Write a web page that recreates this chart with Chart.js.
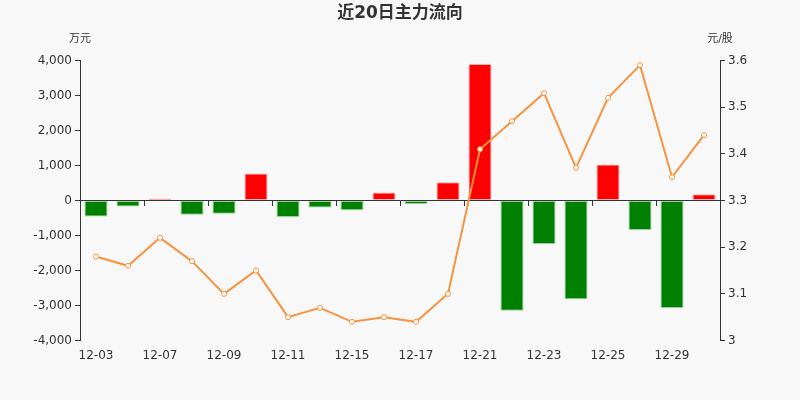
<!DOCTYPE html>
<html>
<head>
<meta charset="utf-8">
<script src="https://cdn.jsdelivr.net/npm/chart.js@4/dist/chart.umd.min.js"></script>
<style>
html,body{margin:0;padding:0;background:#f8f8f8;}
#wrap{width:800px;height:400px;position:relative;}
</style>
</head>
<body>
<div id="wrap"><canvas id="c" width="800" height="400"></canvas></div>
<script>
const titleText = '近20日主力流向';
const leftUnit = '万元';
const rightUnit = '元/股';
const dates = ['12-03','12-04','12-07','12-08','12-09','12-10','12-11','12-14','12-15','12-16',
               '12-17','12-18','12-21','12-22','12-23','12-24','12-25','12-28','12-29','12-30'];
const flowValues = [-460,-170,60,-410,-380,770,-470,-200,-280,230,
                    -100,520,3900,-3150,-1240,-2820,1030,-840,-3070,180];
const priceValues = [3.18,3.16,3.22,3.17,3.10,3.15,3.05,3.07,3.04,3.05,
                     3.04,3.10,3.41,3.47,3.53,3.37,3.52,3.59,3.35,3.44];

const FONT = '"DejaVu Sans", "Noto Sans CJK SC", sans-serif';
Chart.defaults.font.family = FONT;
Chart.defaults.color = '#333';

const overlay = {
  id: 'overlay',
  afterDraw(chart) {
    const ctx = chart.ctx, a = chart.chartArea;
    ctx.save();
    ctx.fillStyle = '#333';
    ctx.textAlign = 'center';
    ctx.textBaseline = 'middle';
    ctx.font = 'bold 17px "DejaVu Sans", "Noto Sans CJK SC", sans-serif';
    ctx.fillText(titleText, 400, 14);
    ctx.font = '11px ' + FONT;
    ctx.fillText(leftUnit, a.left, 39);
    ctx.fillText(rightUnit, a.right, 39);
    ctx.restore();
  }
};

new Chart(document.getElementById('c'), {
  data: {
    labels: dates,
    datasets: [
      {
        type: 'line',
        data: priceValues,
        yAxisID: 'yR',
        xAxisID: 'x',
        borderColor: '#f7923f',
        borderWidth: 2,
        pointRadius: 2.5,
        pointBorderWidth: 1,
        pointBackgroundColor: '#fff',
        pointBorderColor: '#f7923f',
        tension: 0,
        order: 0
      },
      {
        type: 'bar',
        data: flowValues,
        yAxisID: 'yL',
        xAxisID: 'x',
        backgroundColor: flowValues.map(v => v >= 0 ? '#ff0000' : '#008000'),
        borderColor: flowValues.map(v => v >= 0 ? 'rgba(255,170,170,0.9)' : 'rgba(140,205,140,0.9)'),
        borderWidth: 1,
        borderSkipped: false,
        categoryPercentage: 1,
        barPercentage: 0.72,
        order: 1
      }
    ]
  },
  options: {
    responsive: false,
    animation: false,
    devicePixelRatio: 1,
    layout: { padding: { top: 60.5, left: 0, right: 0, bottom: 0 } },
    plugins: { legend: { display: false }, tooltip: { enabled: false }, title: { display: false } },
    scales: {
      x: {
        position: 'bottom',
        offset: true,
        grid: { display: false, drawTicks: false },
        border: { display: false },
        ticks: {
          autoSkip: false, maxRotation: 0, padding: 8,
          font: { size: 12 },
          callback: function(v, i) { return i % 2 === 0 ? this.getLabelForValue(v) : ''; }
        },
        afterFit(s) { s.height = 59.5; }
      },
      x0: {
        position: { yL: 0 },
        offset: true,
        grid: {
          offset: true, drawOnChartArea: false, drawTicks: true, tickLength: 5,
          color: ctx => (ctx.index % 2 === 0 ? '#333' : 'rgba(0,0,0,0)')
        },
        border: { display: true, color: '#333', width: 1 },
        ticks: { display: false }
      },
      yL: {
        position: 'left',
        min: -4000, max: 4000,
        grid: { display: true, drawOnChartArea: false, tickLength: 5, color: '#333' },
        border: { display: true, color: '#333' },
        ticks: {
          stepSize: 1000, padding: 3, font: { size: 12 },
          callback: v => v.toLocaleString('en-US')
        },
        afterFit(s) { s.width = 80; }
      },
      yR: {
        position: 'right',
        min: 3.0, max: 3.6,
        grid: { display: true, drawOnChartArea: false, tickLength: 5, color: '#333' },
        border: { display: true, color: '#333' },
        ticks: {
          stepSize: 0.1, padding: 3, font: { size: 12 },
          callback: v => String(Math.round(v * 10) / 10)
        },
        afterFit(s) { s.width = 80; }
      }
    }
  },
  plugins: [overlay]
});
</script>
</body>
</html>
